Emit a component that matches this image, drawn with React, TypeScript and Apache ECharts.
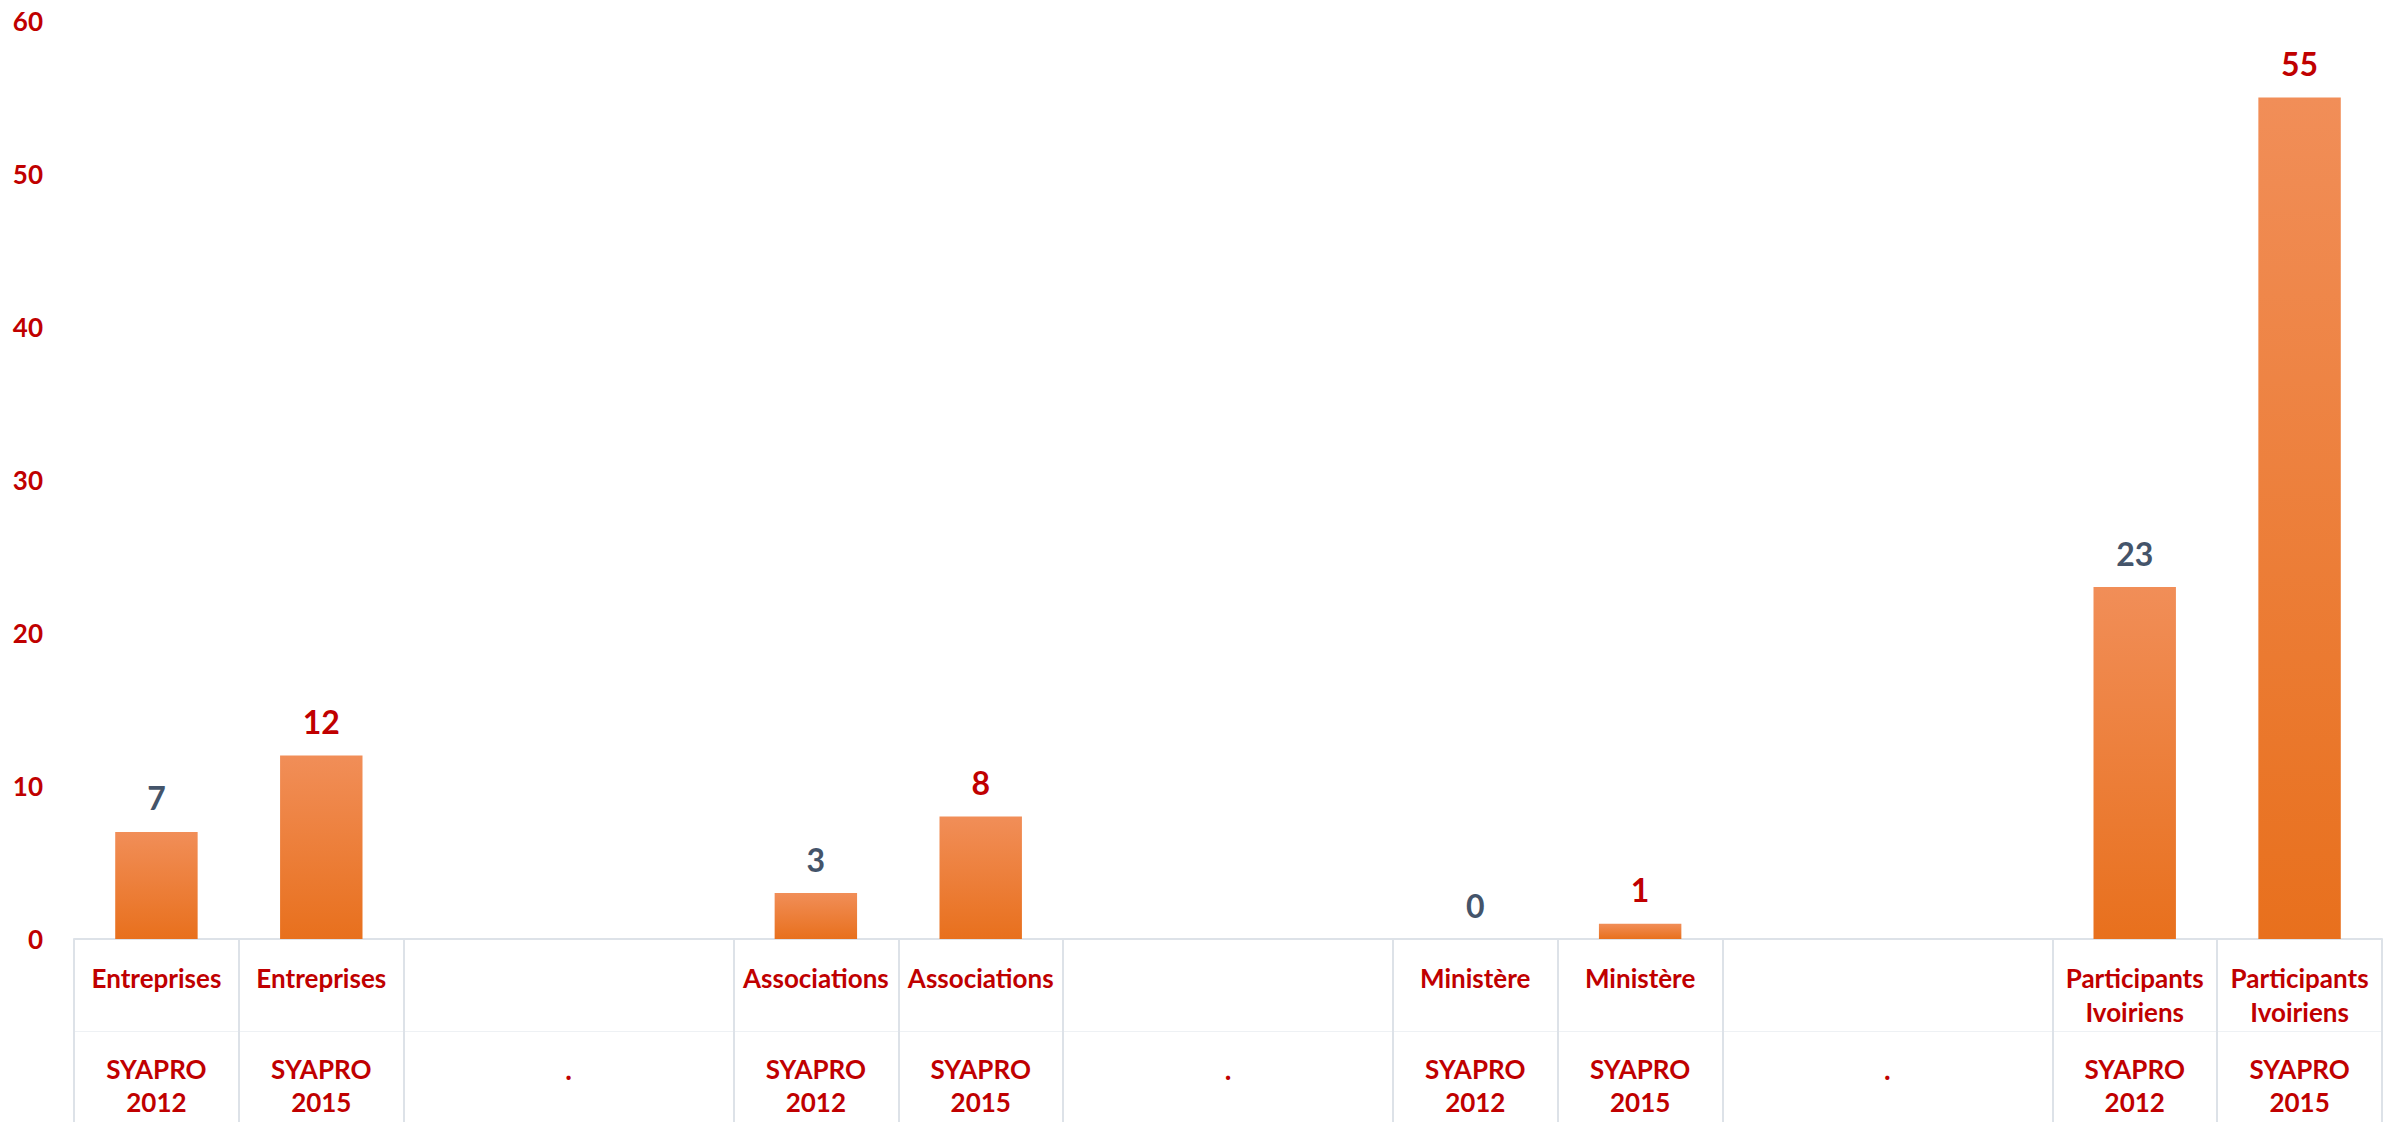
import React, { useEffect, useRef } from "react";
import * as echarts from "echarts";

const groups = ["Entreprises", "Associations", "Ministère", "Participants\nIvoiriens"];
const editions = ["SYAPRO\n2012", "SYAPRO\n2015"];
const values2012 = [7, 3, 0, 23];
const values2015 = [12, 8, 1, 55];
const gapLabel = ".";
const yMin = 0;
const yMax = 60;
const yStep = 10;

const RED = "#c00000";
const SLATE = "#44546a";
const FONT = "Lato, 'Open Sans', sans-serif";

const W = 2397;
const H = 1122;
const GRID_LEFT = 74;
const GRID_RIGHT = 15;
const GRID_TOP = 21;
const GRID_BOTTOM = 183;

type Cat = { key: string; value: number | null; kind: "bar" | "gapA" | "gapB"; edition: number };

function buildCategories(): Cat[] {
  const out: Cat[] = [];
  groups.forEach((g, gi) => {
    out.push({ key: g + "|" + editions[0], value: values2012[gi], kind: "bar", edition: 0 });
    out.push({ key: g + "|" + editions[1], value: values2015[gi], kind: "bar", edition: 1 });
    if (gi < groups.length - 1) {
      out.push({ key: "gap" + gi + "a", value: null, kind: "gapA", edition: -1 });
      out.push({ key: "gap" + gi + "b", value: null, kind: "gapB", edition: -1 });
    }
  });
  return out;
}

export default function App() {
  const ref = useRef<HTMLDivElement>(null);

  useEffect(() => {
    document.body.style.margin = "0";
    if (!ref.current) return;
    const chart = echarts.init(ref.current, undefined, { renderer: "svg" });
    const cats = buildCategories();
    const band = (W - GRID_LEFT - GRID_RIGHT) / cats.length;

    const labelStyle = {
      color: RED,
      fontSize: 26,
      fontWeight: "bold" as const,
      fontFamily: FONT,
    };

    chart.setOption({
      animation: false,
      backgroundColor: "#ffffff",
      grid: {
        left: GRID_LEFT,
        right: GRID_RIGHT,
        top: GRID_TOP,
        bottom: GRID_BOTTOM,
        containLabel: false,
        outerBoundsMode: "none",
      },
      xAxis: [
        {
          type: "category",
          data: cats.map((c) => c.key),
          axisLine: { show: true, lineStyle: { color: "#dde2e8", width: 2 } },
          axisTick: {
            show: true,
            length: GRID_BOTTOM,
            interval: (index: number) => cats[index] && cats[index].kind !== "gapB",
            lineStyle: { color: "#dde2e8", width: 2 },
          },
          axisLabel: {
            interval: 0,
            margin: 22,
            align: "center",
            verticalAlign: "top",
            formatter: (value: string, index: number) => {
              const c = cats[index];
              if (!c) return "";
              if (c.kind === "gapB") return "";
              if (c.kind === "gapA") return "{g| }\n{g| }\n{e| }\n{dot|" + gapLabel + "}";
              const [g, e] = value.split("|");
              const gl = g.split("\n");
              const el = e.split("\n");
              return (
                "{g|" + gl[0] + "}\n{g|" + (gl[1] || " ") + "}\n{e| }\n{s|" + el[0] + "}\n{s|" + (el[1] || " ") + "}"
              );
            },
            rich: {
              g: { ...labelStyle, lineHeight: 34 },
              e: { fontSize: 10, lineHeight: 23 },
              s: { ...labelStyle, lineHeight: 33 },
              dot: { ...labelStyle, fontSize: 28, lineHeight: 33, padding: [0, 0, 0, band] },
            },
          },
        },
        {
          type: "category",
          data: cats.map((c) => c.key),
          position: "bottom",
          offset: 92,
          axisLine: { show: true, lineStyle: { color: "#eef1f4", width: 1 } },
          axisTick: { show: false },
          axisLabel: { show: false },
        },
      ],
      yAxis: {
        type: "value",
        min: yMin,
        max: yMax,
        interval: yStep,
        axisLine: { show: false },
        axisTick: { show: false },
        splitLine: { show: false },
        axisLabel: {
          margin: 31,
          color: RED,
          fontSize: 26,
          fontWeight: "bold",
          fontFamily: FONT,
        },
      },
      series: [
        {
          type: "bar",
          xAxisIndex: 0,
          barCategoryGap: "50%",
          data: cats.map((c) =>
            c.kind === "bar"
              ? {
                  value: c.value,
                  label: { color: c.edition === 0 ? SLATE : RED },
                }
              : "-"
          ),
          itemStyle: {
            color: new echarts.graphic.LinearGradient(0, 0, 0, 1, [
              { offset: 0, color: "#f18e58" },
              { offset: 1, color: "#e8701d" },
            ]),
          },
          label: {
            show: true,
            position: "top",
            distance: 18,
            fontSize: 32,
            fontWeight: "bold",
            fontFamily: FONT,
          },
        },
      ],
    });

    return () => chart.dispose();
  }, []);

  return <div ref={ref} style={{ width: W, height: H }} />;
}
